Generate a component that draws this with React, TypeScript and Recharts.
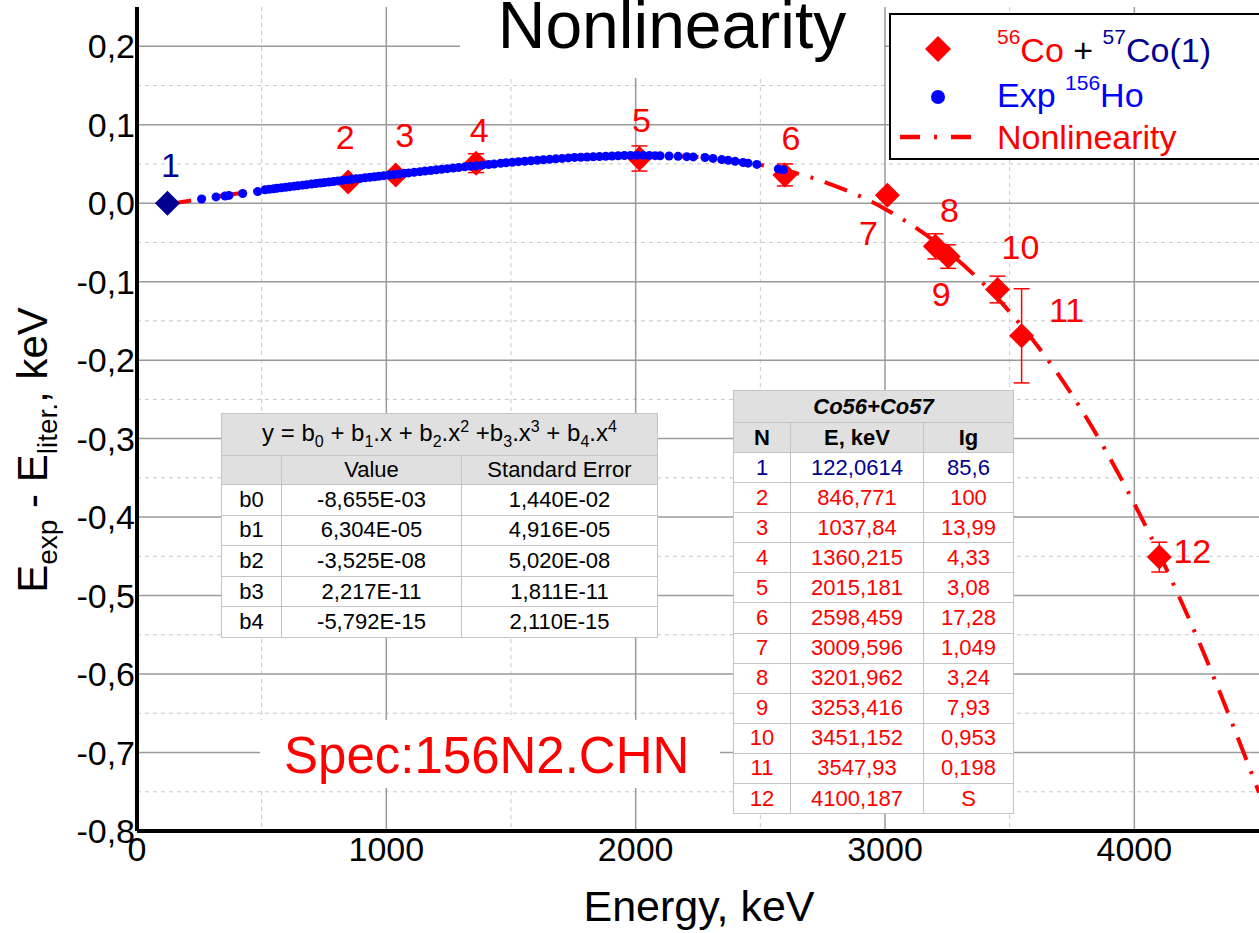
import { ComposedChart, Line, Scatter, XAxis, YAxis, CartesianGrid, ErrorBar } from 'recharts';

const FONT = '"Liberation Sans", Arial, sans-serif';
const RED = '#ff0000';
const NAVY = '#000090';
const BLUE = '#0000ff';

// 56Co + 57Co calibration lines
const coEnergy = [122.0614, 846.771, 1037.84, 1360.215, 2015.181, 2598.459, 3009.596, 3201.962, 3253.416, 3451.152, 3547.93, 4100.187];
const coDelta = [0.0, 0.027, 0.036, 0.051, 0.057, 0.036, 0.010, -0.055, -0.068, -0.110, -0.169, -0.451];
const coError = [0.003, 0.004, 0.004, 0.012, 0.016, 0.014, 0.005, 0.016, 0.015, 0.017, 0.06, 0.019];
const coIntensity = ['85,6', '100', '13,99', '4,33', '3,08', '17,28', '1,049', '3,24', '7,93', '0,953', '0,198', 'S'];

// fitted nonlinearity curve
const fitEnergy = [122, 250, 500, 750, 1000, 1250, 1500, 1750, 2000, 2250, 2500, 2750, 3000, 3250, 3500, 3750, 4000, 4250, 4500];
const fitDelta = [-0.0015, 0.0052, 0.0165, 0.0263, 0.0355, 0.0442, 0.0521, 0.0582, 0.0611, 0.0588, 0.0488, 0.0279, -0.0073, -0.0612, -0.1385, -0.2442, -0.383, -0.552, -0.751];

// 156Ho experimental lines
const hoEnergy = [
  259, 317, 353, 369, 424, 484, 513, 530, 548, 561, 579, 596, 612, 630, 645, 664, 681, 700, 718, 735,
  752, 770, 788, 806, 823, 842, 860, 878, 896, 915, 934, 952, 970, 990, 1010, 1030, 1050, 1072, 1090, 1112,
  1135, 1155, 1178, 1200, 1222, 1245, 1268, 1290, 1315, 1338, 1360, 1385, 1410, 1432, 1458, 1480, 1505, 1530, 1555, 1580,
  1605, 1630, 1655, 1680, 1705, 1730, 1755, 1780, 1805, 1830, 1855, 1880, 1905, 1930, 1955, 1980, 2005, 2030, 2055, 2078,
  2098, 2134, 2170, 2205, 2231, 2278, 2310, 2345, 2371, 2399, 2431, 2451, 2486, 2572, 2592,
];
const hoDelta = [
  0.0054, 0.008, 0.0092, 0.0099, 0.0124, 0.0148, 0.017, 0.0177, 0.0184, 0.0189, 0.0196, 0.0203, 0.021, 0.0217, 0.0222, 0.023, 0.0236, 0.0244, 0.0251, 0.0257,
  0.0264, 0.027, 0.0277, 0.0284, 0.029, 0.0297, 0.0304, 0.031, 0.0316, 0.0324, 0.0331, 0.0337, 0.0344, 0.0351, 0.0358, 0.0366, 0.0372, 0.038, 0.0386, 0.0394,
  0.0402, 0.0409, 0.0417, 0.0425, 0.0432, 0.044, 0.0448, 0.0455, 0.0463, 0.047, 0.0477, 0.0485, 0.0493, 0.05, 0.0508, 0.0515, 0.0522, 0.0529, 0.0535, 0.0541,
  0.0547, 0.0553, 0.0559, 0.0565, 0.0571, 0.0577, 0.0583, 0.0586, 0.0589, 0.0592, 0.0595, 0.0598, 0.0601, 0.0604, 0.0607, 0.0609, 0.0611, 0.061, 0.0608, 0.0606,
  0.0604, 0.0601, 0.0597, 0.0593, 0.059, 0.0582, 0.0571, 0.0556, 0.0546, 0.0533, 0.0518, 0.051, 0.0494, 0.0437, 0.0425,
];

// polynomial fit table
const coefNames = ['b0', 'b1', 'b2', 'b3', 'b4'];
const coefValues = ['-8,655E-03', '6,304E-05', '-3,525E-08', '2,217E-11', '-5,792E-15'];
const coefErrors = ['1,440E-02', '4,916E-05', '5,020E-08', '1,811E-11', '2,110E-15'];

// axes
const X_DOMAIN = [0, 4500];
const Y_DOMAIN = [-0.8, 0.25];
const xMajor = [0, 1000, 2000, 3000, 4000];
const xMinor = [500, 1500, 2500, 3500];
const yMajor = [-0.8, -0.7, -0.6, -0.5, -0.4, -0.3, -0.2, -0.1, 0, 0.1, 0.2];
const yMinor = [-0.75, -0.65, -0.55, -0.45, -0.35, -0.25, -0.15, -0.05, 0.05, 0.15];

// where each point number sits relative to its marker
const labelOffset = [[3, -38], [-3, -45], [9, -40], [3, -33], [2, -38], [6, -37], [-19, 38], [14, -36], [-7, 37], [23, -43], [45, -26], [33, -6]];

// grid lines placed through the same linear mapping the axes use
const gridX = (vals: number[]) => ({ xAxis, offset }: any) =>
  vals.map((v) =>
    xAxis && typeof xAxis.scale === 'function'
      ? xAxis.scale(v)
      : offset.left + ((v - X_DOMAIN[0]) / (X_DOMAIN[1] - X_DOMAIN[0])) * offset.width,
  );
const gridY = (vals: number[]) => ({ yAxis, offset }: any) =>
  vals.map((v) =>
    yAxis && typeof yAxis.scale === 'function'
      ? yAxis.scale(v)
      : offset.top + ((Y_DOMAIN[1] - v) / (Y_DOMAIN[1] - Y_DOMAIN[0])) * offset.height,
  );

const Diamond = (props: any) => {
  const { cx, cy, payload } = props;
  if (cx == null || cy == null) return null;
  const s = 12.5;
  return (
    <polygon
      points={`${cx},${cy - s} ${cx + s},${cy} ${cx},${cy + s} ${cx - s},${cy}`}
      fill={payload.n === 1 ? NAVY : RED}
    />
  );
};

const Dot = (props: any) => {
  const { cx, cy } = props;
  if (cx == null || cy == null) return null;
  return <circle cx={cx} cy={cy} r={4.5} fill={BLUE} />;
};

const PointLabel = (props: any) => {
  const { cx, cy, payload } = props;
  if (cx == null || cy == null) return null;
  const [dx, dy] = labelOffset[payload.n - 1];
  return (
    <text x={cx + dx} y={cy + dy} textAnchor="middle" dominantBaseline="central" fontSize={34} fontFamily={FONT} fill={payload.n === 1 ? NAVY : RED}>
      {payload.n}
    </text>
  );
};

const fmt = (v: number) => (Math.abs(v) < 1e-9 ? '0,0' : v.toFixed(1).replace('.', ','));

const cell: React.CSSProperties = { border: '1px solid #c4c4c4', textAlign: 'center', padding: 0, whiteSpace: 'nowrap' };
const head: React.CSSProperties = { ...cell, background: '#e0e0e0' };

export default function App() {
  const coData = coEnergy.map((x, i) => ({ x, y: coDelta[i], err: coError[i], n: i + 1 }));
  const fitData = fitEnergy.map((x, i) => ({ x, y: fitDelta[i] }));
  const hoData = hoEnergy.map((x, i) => ({ x, y: hoDelta[i] }));

  return (
    <div style={{ position: 'absolute', left: 0, top: 0, width: 1259, height: 933, overflow: 'hidden', background: '#fff', fontFamily: FONT }}>
      <ComposedChart width={1259} height={933} margin={{ top: 7, right: 0, bottom: 0, left: 0 }}>
        <CartesianGrid
          horizontalCoordinatesGenerator={gridY(yMinor)}
          verticalCoordinatesGenerator={gridX(xMinor)}
          stroke="#c8c8c8"
          strokeDasharray="4 4"
          strokeWidth={1}
        />
        <CartesianGrid
          horizontalCoordinatesGenerator={gridY(yMajor)}
          verticalCoordinatesGenerator={gridX(xMajor)}
          stroke="#9a9a9a"
          strokeWidth={1.5}
        />
        <XAxis
          type="number"
          dataKey="x"
          domain={X_DOMAIN}
          ticks={xMajor}
          allowDataOverflow
          height={102}
          tickSize={0}
          tickMargin={6}
          axisLine={{ stroke: '#000', strokeWidth: 4 }}
          tick={{ fill: '#000', fontSize: 34, fontFamily: FONT }}
        />
        <YAxis
          type="number"
          dataKey="y"
          domain={Y_DOMAIN}
          ticks={yMajor}
          allowDataOverflow
          width={137}
          tickSize={0}
          tickMargin={2}
          tickFormatter={fmt}
          axisLine={{ stroke: '#000', strokeWidth: 4 }}
          tick={{ fill: '#000', fontSize: 34, fontFamily: FONT }}
        />
        <Line
          data={fitData}
          dataKey="y"
          type="monotone"
          stroke={RED}
          strokeWidth={4}
          strokeDasharray="24 12 3 12"
          dot={false}
          activeDot={false}
          isAnimationActive={false}
        />
        <Scatter data={coData} dataKey="y" shape={Diamond} isAnimationActive={false}>
          <ErrorBar dataKey="err" direction="y" width={8} stroke={RED} strokeWidth={1.5} isAnimationActive={false} />
        </Scatter>
        <Scatter data={hoData} dataKey="y" shape={Dot} isAnimationActive={false} />
        <Scatter data={coData} dataKey="y" shape={PointLabel} isAnimationActive={false} />
      </ComposedChart>

      <svg width={1259} height={933} style={{ position: 'absolute', left: 0, top: 0, pointerEvents: 'none' }} fontFamily={FONT}>
        {/* title */}
        <rect x={460} y={0} width={424} height={78} fill="#fff" />
        <text x={672} y={48} textAnchor="middle" fontSize={66} fill="#000">Nonlinearity</text>

        {/* spectrum name */}
        <rect x={260} y={720} width={460} height={68} fill="#fff" />
        <text x={284} y={773} fontSize={51} fill={RED}>Spec:156N2.CHN</text>

        {/* legend */}
        <rect x={890} y={14} width={380} height={145} fill="#fff" stroke="#000" strokeWidth={2} />
        <polygon points="938,36 951,49 938,62 925,49" fill={RED} />
        <circle cx={938} cy={97} r={7} fill={BLUE} />
        <line x1={900} y1={137} x2={974} y2={137} stroke={RED} strokeWidth={4.5} strokeDasharray="20 14 3 14" />
        <text x={997} y={62} fontSize={34} style={{ whiteSpace: 'pre' }}>
          <tspan fill={RED} fontSize={21} dy={-18}>56</tspan>
          <tspan fill={RED} dy={18}>Co</tspan>
          <tspan fill="#000"> + </tspan>
          <tspan fill={NAVY} fontSize={21} dy={-18}>57</tspan>
          <tspan fill={NAVY} dy={18}>Co(1)</tspan>
        </text>
        <text x={997} y={107} fontSize={34} fill={BLUE} style={{ whiteSpace: 'pre' }}>
          <tspan>Exp </tspan>
          <tspan fontSize={21} dy={-17}>156</tspan>
          <tspan dy={17}>Ho</tspan>
        </text>
        <text x={997} y={149} fontSize={34} fill={RED}>Nonlinearity</text>

        {/* axis titles */}
        <text x={699} y={921} textAnchor="middle" fontSize={43} fill="#000">Energy, keV</text>
        <text transform="translate(47,450) rotate(-90)" textAnchor="middle" fontSize={42} fill="#000" style={{ whiteSpace: 'pre' }}>
          <tspan>E</tspan>
          <tspan fontSize={28} dy={10}>exp</tspan>
          <tspan dy={-10}> - E</tspan>
          <tspan fontSize={28} dy={10}>liter.</tspan>
          <tspan dy={-10}>, keV</tspan>
        </text>
      </svg>

      {/* fit coefficients */}
      <table style={{ position: 'absolute', left: 221, top: 413, width: 436, borderCollapse: 'collapse', tableLayout: 'fixed', border: '1.5px solid #5a5a5a', background: '#fff', fontSize: 22, color: '#000' }}>
        <colgroup>
          <col style={{ width: 60 }} />
          <col style={{ width: 180 }} />
          <col style={{ width: 196 }} />
        </colgroup>
        <tbody>
          <tr style={{ height: 42 }}>
            <td colSpan={3} style={{ ...head, fontSize: 24 }}>
              y = b<sub style={{ fontSize: 16 }}>0</sub> + b<sub style={{ fontSize: 16 }}>1</sub>.x + b<sub style={{ fontSize: 16 }}>2</sub>.x<sup style={{ fontSize: 16 }}>2</sup> +b<sub style={{ fontSize: 16 }}>3</sub>.x<sup style={{ fontSize: 16 }}>3</sup> + b<sub style={{ fontSize: 16 }}>4</sub>.x<sup style={{ fontSize: 16 }}>4</sup>
            </td>
          </tr>
          <tr style={{ height: 29 }}>
            <td style={head}></td>
            <td style={head}>Value</td>
            <td style={head}>Standard Error</td>
          </tr>
          {coefNames.map((name, i) => (
            <tr key={name} style={{ height: 30.6 }}>
              <td style={cell}>{name}</td>
              <td style={cell}>{coefValues[i]}</td>
              <td style={cell}>{coefErrors[i]}</td>
            </tr>
          ))}
        </tbody>
      </table>

      {/* calibration lines */}
      <table style={{ position: 'absolute', left: 733, top: 390, width: 280, borderCollapse: 'collapse', tableLayout: 'fixed', border: '1.5px solid #5a5a5a', background: '#fff', fontSize: 22 }}>
        <colgroup>
          <col style={{ width: 57 }} />
          <col style={{ width: 133 }} />
          <col style={{ width: 90 }} />
        </colgroup>
        <tbody>
          <tr style={{ height: 32 }}>
            <td colSpan={3} style={{ ...head, fontWeight: 'bold', fontStyle: 'italic' }}>Co56+Co57</td>
          </tr>
          <tr style={{ height: 30 }}>
            <td style={{ ...head, fontWeight: 'bold' }}>N</td>
            <td style={{ ...head, fontWeight: 'bold' }}>E, keV</td>
            <td style={{ ...head, fontWeight: 'bold' }}>Ig</td>
          </tr>
          {coEnergy.map((e, i) => (
            <tr key={i} style={{ height: 30.1, color: i === 0 ? NAVY : RED }}>
              <td style={cell}>{i + 1}</td>
              <td style={cell}>{String(e).replace('.', ',')}</td>
              <td style={cell}>{coIntensity[i]}</td>
            </tr>
          ))}
        </tbody>
      </table>
    </div>
  );
}
